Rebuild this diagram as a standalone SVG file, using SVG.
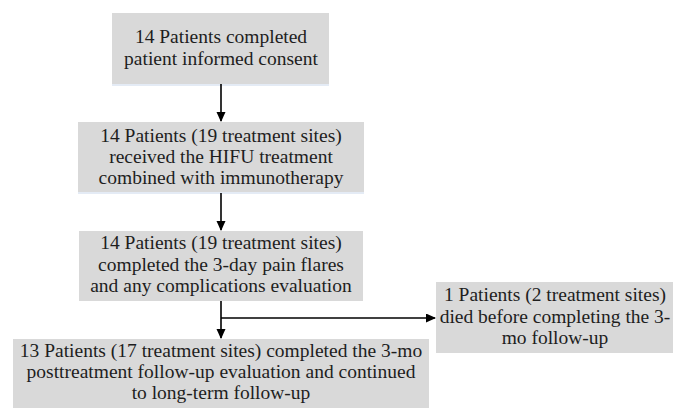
<svg xmlns="http://www.w3.org/2000/svg" width="673" height="408" viewBox="0 0 673 408">
<defs>
<style>
.box{fill:#d9d9d9;}
.sh{stroke:#e4ebf5;stroke-width:2;}
text{font-family:"Liberation Serif","Times New Roman",serif;font-size:19.5px;fill:#1e1e1e;text-anchor:middle;}
.ln{stroke:#000;stroke-width:1.6;fill:none;}
</style>
<marker id="ah" markerWidth="10" markerHeight="10" refX="9" refY="4.5" orient="auto" markerUnits="userSpaceOnUse">
<path d="M0,0 L10,4.5 L0,9 Z" fill="#000"/>
</marker>
</defs>
<rect width="673" height="408" fill="#fff"/>
<g id="n1">
<rect class="box" x="112" y="13" width="217" height="71"/>
<line class="sh" x1="112" y1="85" x2="329" y2="85"/>
<text x="221" y="43">14 Patients completed</text>
<text x="221" y="65">patient informed consent</text>
</g>
<g id="n2">
<rect class="box" x="78" y="122" width="286" height="70"/>
<line class="sh" x1="78" y1="193" x2="364" y2="193"/>
<text x="221" y="142">14 Patients (19 treatment sites)</text>
<text x="221" y="163">received the HIFU treatment</text>
<text x="221" y="184">combined with immunotherapy</text>
</g>
<g id="n3">
<rect class="box" x="79" y="231" width="284" height="70"/>
<text x="221" y="249">14 Patients (19 treatment sites)</text>
<text x="221" y="271">completed the 3-day pain flares</text>
<text x="221" y="292">and any complications evaluation</text>
</g>
<g id="n4">
<rect class="box" x="436" y="282" width="245" height="71"/>
<text x="555" y="301">1 Patients (2 treatment sites)</text>
<text x="555" y="323">died before completing the 3-</text>
<text x="555" y="344">mo follow-up</text>
</g>
<g id="n5">
<rect class="box" x="13" y="339" width="416" height="75"/>
<text x="221" y="357">13 Patients (17 treatment sites) completed the 3-mo</text>
<text x="221" y="378">posttreatment follow-up evaluation and continued</text>
<text x="221" y="399">to long-term follow-up</text>
</g>
<g id="connectors">
<line class="ln" x1="221" y1="84" x2="221" y2="121" marker-end="url(#ah)"/>
<line class="ln" x1="221" y1="193" x2="221" y2="230" marker-end="url(#ah)"/>
<line class="ln" x1="221" y1="301" x2="221" y2="338" marker-end="url(#ah)"/>
<line class="ln" x1="221" y1="318" x2="435" y2="318" marker-end="url(#ah)"/>
</g>
</svg>
